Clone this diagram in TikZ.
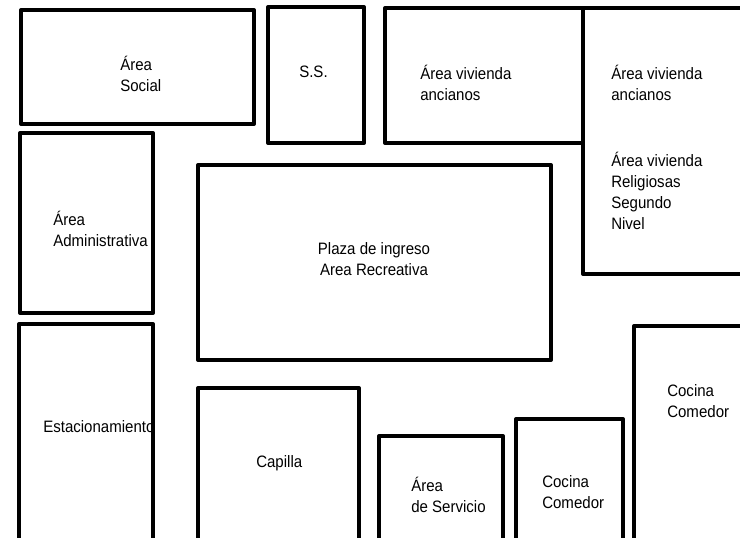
\documentclass[tikz,border=0pt]{standalone}
\usepackage{fontspec}
\setmainfont{Liberation Sans}[FakeStretch=0.91]
\usetikzlibrary{fit}
\tikzset{
  room/.style={draw=black, line width=3pt, line join=round, inner sep=0pt, fit={#1}},
  lbl/.style={anchor=base west, align=left, inner sep=0pt, font=\fontsize{12.4}{15.75}\selectfont},
  clbl/.style={anchor=base, align=center, inner sep=0pt, font=\fontsize{12.4}{15.75}\selectfont}
}
\begin{document}
\begin{tikzpicture}[x={(0.75pt,0)}, y={(0,-0.75pt)}]
\useasboundingbox (0,0) rectangle (740,537);
\fill[white] (0,0) rectangle (740,537);
\clip (0,0) rectangle (740,537);
% labels (anchored at the baseline of their last line; drawn first so borders overlap them)
\node[lbl] (tsocial) at (120,91) {Área\\Social};
\node[lbl] (tss) at (299,77) {S.S.};
\node[lbl] (tviv1) at (420,100) {Área vivienda\\ancianos};
\node[lbl] (tviv2) at (611,100) {Área vivienda\\ancianos};
\node[lbl] (trel) at (611,229) {Área vivienda\\Religiosas\\Segundo\\Nivel};
\node[lbl] (tadm) at (53,246) {Área\\Administrativa};
\node[clbl] (tplaza) at (374,275) {Plaza de ingreso\\Area Recreativa};
\node[lbl] (test) at (43,432) {Estacionamiento};
\node[lbl] (tcap) at (256,467) {Capilla};
\node[lbl] (tserv) at (411,512) {Área\\de Servicio};
\node[lbl] (tcoc1) at (542,508) {Cocina\\Comedor};
\node[lbl] (tcoc2) at (667,417) {Cocina\\Comedor};
% rooms
\node[room={(21,10) (254,124)}] (social) {};
\node[room={(268,7) (364,143)}] (ss) {};
\node[room={(385,8) (583,143)}] (viv1) {};
\node[room={(583,8) (760,274)}] (viv2) {};
\node[room={(20,133) (153,313)}] (adm) {};
\node[room={(198,165) (551,360)}] (plaza) {};
\node[room={(19,324) (153,560)}] (est) {};
\node[room={(198,388) (359,560)}] (cap) {};
\node[room={(379,436) (503,560)}] (serv) {};
\node[room={(516,419) (623,560)}] (coc1) {};
\node[room={(634,326) (760,560)}] (coc2) {};
\end{tikzpicture}
\end{document}
